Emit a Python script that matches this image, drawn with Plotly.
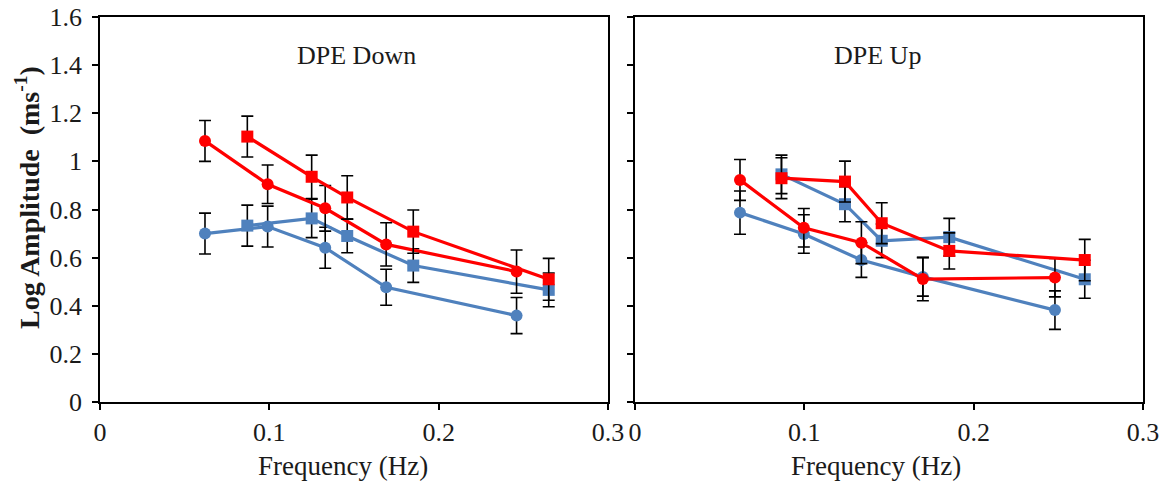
import plotly.graph_objects as go

# ---- data ----
# DPE Down panel
down_circ_x = [0.062, 0.099, 0.133, 0.169, 0.246]
down_red_circ_y = [1.085, 0.905, 0.805, 0.655, 0.542]
down_red_circ_err = [0.085, 0.08, 0.095, 0.09, 0.09]
down_blue_circ_y = [0.700, 0.729, 0.641, 0.477, 0.359]
down_blue_circ_err = [0.085, 0.085, 0.085, 0.075, 0.075]
down_sq_x = [0.087, 0.125, 0.146, 0.185, 0.265]
down_red_sq_y = [1.103, 0.936, 0.850, 0.708, 0.510]
down_red_sq_err = [0.085, 0.09, 0.09, 0.09, 0.087]
down_blue_sq_y = [0.733, 0.763, 0.690, 0.567, 0.466]
down_blue_sq_err = [0.085, 0.08, 0.07, 0.07, 0.07]

# DPE Up panel
up_circ_x = [0.062, 0.0997, 0.1337, 0.170, 0.248]
up_red_circ_y = [0.923, 0.724, 0.662, 0.511, 0.517]
up_red_circ_err = [0.085, 0.08, 0.087, 0.09, 0.08]
up_blue_circ_y = [0.787, 0.698, 0.590, 0.520, 0.382]
up_blue_circ_err = [0.09, 0.08, 0.072, 0.08, 0.08]
up_sq_x = [0.0865, 0.124, 0.1457, 0.1856, 0.2656]
up_red_sq_y = [0.930, 0.916, 0.743, 0.628, 0.590]
up_red_sq_err = [0.085, 0.085, 0.085, 0.075, 0.086]
up_blue_sq_y = [0.946, 0.822, 0.670, 0.685, 0.510]
up_blue_sq_err = [0.08, 0.073, 0.07, 0.078, 0.079]

x_ticks = [0, 0.1, 0.2, 0.3]
y_ticks = [0, 0.2, 0.4, 0.6, 0.8, 1.0, 1.2, 1.4, 1.6]

panel_titles = ["DPE Down", "DPE Up"]
x_title = "Frequency (Hz)"
y_title = "<b>Log Amplitude  (ms<sup>-1</sup>)</b>"

RED = "#FF0000"
BLUE = "#4F81BD"
FONT = "Liberation Serif"
TXT = "#1a1a1a"

fig = go.Figure()


def add_series(x, y, err, color, symbol, xa, ya):
    fig.add_trace(go.Scatter(
        x=x, y=y, xaxis=xa, yaxis=ya, mode="lines+markers",
        line=dict(color=color, width=3.2),
        marker=dict(color=color, symbol=symbol, size=12),
        error_y=dict(type="data", array=err, visible=True,
                     color="black", thickness=1.6, width=6),
        showlegend=False,
    ))


add_series(down_circ_x, down_blue_circ_y, down_blue_circ_err, BLUE, "circle", "x", "y")
add_series(down_sq_x, down_blue_sq_y, down_blue_sq_err, BLUE, "square", "x", "y")
add_series(down_circ_x, down_red_circ_y, down_red_circ_err, RED, "circle", "x", "y")
add_series(down_sq_x, down_red_sq_y, down_red_sq_err, RED, "square", "x", "y")

add_series(up_circ_x, up_blue_circ_y, up_blue_circ_err, BLUE, "circle", "x2", "y2")
add_series(up_sq_x, up_blue_sq_y, up_blue_sq_err, BLUE, "square", "x2", "y2")
add_series(up_circ_x, up_red_circ_y, up_red_circ_err, RED, "circle", "x2", "y2")
add_series(up_sq_x, up_red_sq_y, up_red_sq_err, RED, "square", "x2", "y2")

W, H = 1170, 490
L, R, T, B = 100, 1143, 17, 402   # plot area in px
PW, PH = R - L, B - T


def px_x(p):
    return (p - L) / PW


def px_y(p):
    return (B - p) / PH


xdom1 = [0, px_x(608)]
xdom2 = [px_x(635), 1]

axis_common = dict(
    showgrid=False, zeroline=False, showline=True, linecolor="black",
    linewidth=1.5, mirror=True, ticks="outside", ticklen=6,
    tickcolor="black", tickwidth=1.5, automargin=False,
    tickfont=dict(family=FONT, size=26, color=TXT),
)


def label(text, xp, yp, size, angle=0):
    return dict(text=text, x=px_x(xp), y=px_y(yp), xref="paper", yref="paper",
                xanchor="center", yanchor="middle", textangle=angle,
                showarrow=False, font=dict(family=FONT, size=size, color=TXT))


fig.update_layout(
    template="none",
    width=W, height=H,
    margin=dict(l=L, r=W - R, t=T, b=H - B, pad=0),
    paper_bgcolor="white", plot_bgcolor="white",
    font=dict(family=FONT, color=TXT),
    xaxis=dict(domain=xdom1, range=[0, 0.3], tickvals=x_ticks,
               anchor="y", **axis_common),
    yaxis=dict(domain=[0, 1], range=[0, 1.6], tickvals=y_ticks,
               anchor="x", ticklabelstandoff=5, **axis_common),
    xaxis2=dict(domain=xdom2, range=[0, 0.3], tickvals=x_ticks,
                anchor="y2", **axis_common),
    yaxis2=dict(domain=[0, 1], range=[0, 1.6], tickvals=y_ticks,
                showticklabels=False, anchor="x2", **axis_common),
    annotations=[
        label(panel_titles[0], 356, 55, 26),
        label(panel_titles[1], 877, 55, 26),
        label(x_title, 343, 466, 27),
        label(x_title, 876, 466, 27),
        label(y_title, 27, 198, 28, angle=-90),
    ],
)

fig.write_html("out.html", config={"displayModeBar": False},
               post_script="document.body.style.margin='0';")
